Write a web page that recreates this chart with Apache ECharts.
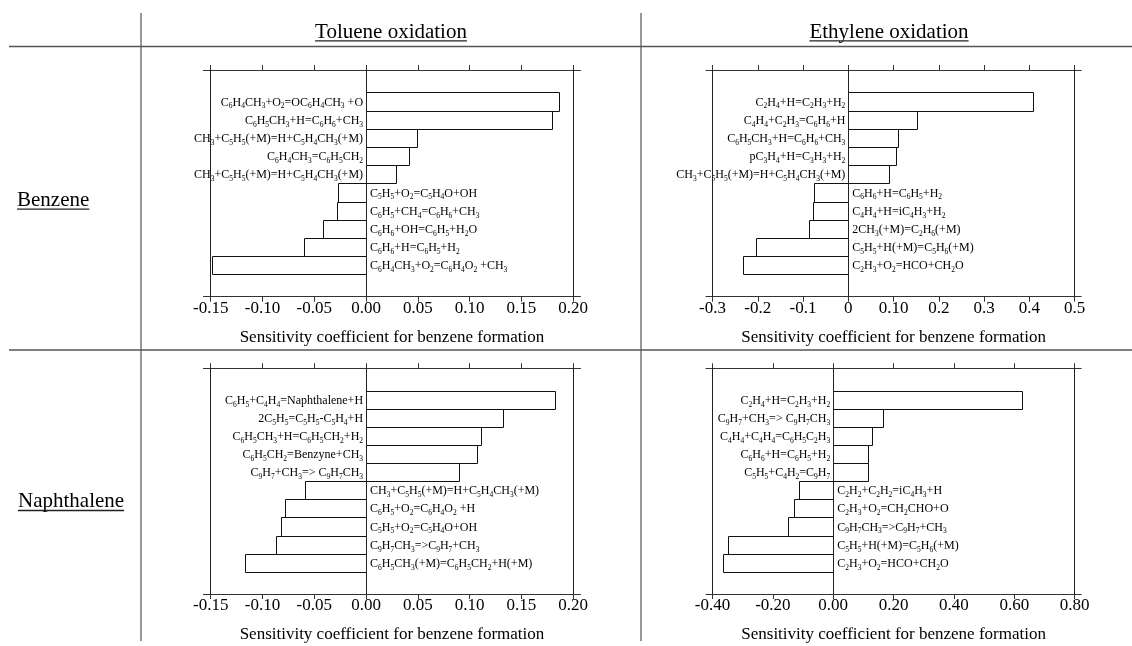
<!DOCTYPE html>
<html>
<head>
<meta charset="utf-8">
<script src="https://cdn.jsdelivr.net/npm/echarts@6/dist/echarts.min.js"></script>
<style>
  html, body { margin: 0; padding: 0; background: #fff; }
  #chart { width: 1132px; height: 646px; }
</style>
</head>
<body>
<div id="chart"></div>
<script>
// ---------- data ----------
const columnTitles = ['Toluene oxidation', 'Ethylene oxidation'];
const rowTitles = ['Benzene', 'Naphthalene'];
const axisTitle = 'Sensitivity coefficient for benzene formation';

const tolueneBenzeneReactions = [
  'C6H4CH3+O2=OC6H4CH3 +O',
  'C6H5CH3+H=C6H6+CH3',
  'CH3+C5H5(+M)=H+C5H4CH3(+M)',
  'C6H4CH3=C6H5CH2',
  'CH3+C5H5(+M)=H+C5H4CH3(+M)',
  'C5H5+O2=C5H4O+OH',
  'C6H5+CH4=C6H6+CH3',
  'C6H6+OH=C6H5+H2O',
  'C6H6+H=C6H5+H2',
  'C6H4CH3+O2=C6H4O2 +CH3'
];
const tolueneBenzeneValues = [0.186, 0.180, 0.049, 0.041, 0.029, -0.027, -0.028, -0.042, -0.060, -0.149];

const ethyleneBenzeneReactions = [
  'C2H4+H=C2H3+H2',
  'C4H4+C2H3=C6H6+H',
  'C6H5CH3+H=C6H6+CH3',
  'pC3H4+H=C3H3+H2',
  'CH3+C5H5(+M)=H+C5H4CH3(+M)',
  'C6H6+H=C6H5+H2',
  'C4H4+H=iC4H3+H2',
  '2CH3(+M)=C2H6(+M)',
  'C5H5+H(+M)=C5H6(+M)',
  'C2H3+O2=HCO+CH2O'
];
const ethyleneBenzeneValues = [0.409, 0.152, 0.110, 0.106, 0.090, -0.075, -0.077, -0.087, -0.204, -0.233];

const tolueneNaphthaleneReactions = [
  'C6H5+C4H4=Naphthalene+H',
  '2C5H5=C5H5-C5H4+H',
  'C6H5CH3+H=C6H5CH2+H2',
  'C6H5CH2=Benzyne+CH3',
  'C9H7+CH3=> C9H7CH3',
  'CH3+C5H5(+M)=H+C5H4CH3(+M)',
  'C6H5+O2=C6H4O2 +H',
  'C5H5+O2=C5H4O+OH',
  'C9H7CH3=>C9H7+CH3',
  'C6H5CH3(+M)=C6H5CH2+H(+M)'
];
const tolueneNaphthaleneValues = [0.182, 0.132, 0.111, 0.107, 0.0895, -0.0586, -0.078, -0.082, -0.087, -0.117];

const ethyleneNaphthaleneReactions = [
  'C2H4+H=C2H3+H2',
  'C9H7+CH3=> C9H7CH3',
  'C4H4+C4H4=C6H5C2H3',
  'C6H6+H=C6H5+H2',
  'C5H5+C4H2=C9H7',
  'C2H2+C2H2=iC4H3+H',
  'C2H3+O2=CH2CHO+O',
  'C9H7CH3=>C9H7+CH3',
  'C5H5+H(+M)=C5H6(+M)',
  'C2H3+O2=HCO+CH2O'
];
const ethyleneNaphthaleneValues = [0.625, 0.166, 0.129, 0.114, 0.114, -0.115, -0.131, -0.149, -0.350, -0.366];

const tolueneTicks = [-0.15, -0.10, -0.05, 0, 0.05, 0.10, 0.15, 0.20];
const tolueneTickLabels = ['-0.15', '-0.10', '-0.05', '0.00', '0.05', '0.10', '0.15', '0.20'];
const ethyleneBenzeneTicks = [-0.3, -0.2, -0.1, 0, 0.1, 0.2, 0.3, 0.4, 0.5];
const ethyleneBenzeneTickLabels = ['-0.3', '-0.2', '-0.1', '0', '0.10', '0.2', '0.3', '0.4', '0.5'];
const ethyleneNaphthaleneTicks = [-0.4, -0.2, 0, 0.2, 0.4, 0.6, 0.8];
const ethyleneNaphthaleneTickLabels = ['-0.40', '-0.20', '0.00', '0.20', '0.40', '0.60', '0.80'];

// ---------- layout ----------
const SERIF = '"Liberation Serif", "Times New Roman", "DejaVu Serif", serif';
const INK = '#111';
const RULE = '#555';

// frame (min tick .. max tick) of each column, and how far the axis line runs past it
const colFrames = [
  { left: 210.7, right: 573.2, ext: 7.3 },
  { left: 712.5, right: 1074.7, ext: 6.5 }
];
// top and bottom axis lines of each row
const rowFrames = [
  { top: 70, bottom: 296.7 },
  { top: 368.3, bottom: 594 }
];
// empty space above the first bar and below the last, in bar heights
const Y_PAD = 1.225;

const panels = [
  { row: 0, col: 0, reactions: tolueneBenzeneReactions, values: tolueneBenzeneValues, ticks: tolueneTicks, tickLabels: tolueneTickLabels },
  { row: 0, col: 1, reactions: ethyleneBenzeneReactions, values: ethyleneBenzeneValues, ticks: ethyleneBenzeneTicks, tickLabels: ethyleneBenzeneTickLabels },
  { row: 1, col: 0, reactions: tolueneNaphthaleneReactions, values: tolueneNaphthaleneValues, ticks: tolueneTicks, tickLabels: tolueneTickLabels },
  { row: 1, col: 1, reactions: ethyleneNaphthaleneReactions, values: ethyleneNaphthaleneValues, ticks: ethyleneNaphthaleneTicks, tickLabels: ethyleneNaphthaleneTickLabels }
];

// chemical formula -> rich text, digits after an element symbol become subscripts
function formulaToRich(formula) {
  const tokens = [];
  let prevLetterOrSub = false;
  for (const ch of formula) {
    const isDigit = ch >= '0' && ch <= '9';
    const isLetter = /[A-Za-z]/.test(ch);
    const type = (isDigit && prevLetterOrSub) ? 's' : 'n';
    if (tokens.length && tokens[tokens.length - 1].type === type) {
      tokens[tokens.length - 1].text += ch;
    } else {
      tokens.push({ type, text: ch });
    }
    prevLetterOrSub = isLetter || type === 's';
  }
  return tokens.map(t => '{' + t.type + '|' + t.text + '}').join('');
}

const RICH = {
  n: { fontSize: 12, fontFamily: SERIF, lineHeight: 16, fill: '#000' },
  s: { fontSize: 7.5, fontFamily: SERIF, lineHeight: 10, verticalAlign: 'bottom', fill: '#000' }
};

function crisp(v) { return Math.round(v) + 0.5; }

function makeRenderer(reactions) {
  return function (params, api) {
    const v = api.value(0);
    const i = api.value(1);
    const a = api.coord([0, i]);
    const b = api.coord([v, i + 1]);
    const x0 = crisp(Math.min(a[0], b[0]));
    const x1 = crisp(Math.max(a[0], b[0]));
    const y0 = crisp(Math.min(a[1], b[1]));
    const y1 = crisp(Math.max(a[1], b[1]));
    const positive = v >= 0;
    return {
      type: 'group',
      children: [
        {
          type: 'rect',
          shape: { x: x0, y: y0, width: x1 - x0, height: y1 - y0 },
          style: { fill: '#fff', stroke: INK, lineWidth: 1 }
        },
        {
          type: 'text',
          x: positive ? a[0] - 3 : a[0] + 4,
          y: (y0 + y1) / 2 + 0.5,
          style: {
            text: formulaToRich(reactions[params.dataIndex]),
            rich: RICH,
            align: positive ? 'right' : 'left',
            verticalAlign: 'middle',
            fill: '#000',
            font: '12px ' + SERIF
          }
        }
      ]
    };
  };
}

const grids = [];
const xAxes = [];
const yAxes = [];
const series = [];

panels.forEach((p, k) => {
  const cf = colFrames[p.col];
  const rf = rowFrames[p.row];
  const lo = p.ticks[0];
  const hi = p.ticks[p.ticks.length - 1];
  const unitsPerPx = (hi - lo) / (cf.right - cf.left);
  const axisMin = lo - cf.ext * unitsPerPx;
  const axisMax = hi + cf.ext * unitsPerPx;

  grids.push({
    left: cf.left - cf.ext,
    width: cf.right - cf.left + 2 * cf.ext,
    top: rf.top,
    height: rf.bottom - rf.top,
    containLabel: false,
    outerBoundsMode: 'none'
  });

  const labelFor = (val) => {
    let best = 0;
    p.ticks.forEach((t, j) => { if (Math.abs(t - val) < Math.abs(p.ticks[best] - val)) best = j; });
    return p.tickLabels[best];
  };

  const common = {
    type: 'value',
    gridIndex: k,
    min: axisMin,
    max: axisMax,
    splitLine: { show: false },
    axisLine: { show: true, onZero: false, lineStyle: { color: '#333', width: 1 } },
    axisTick: { show: true, customValues: p.ticks, length: 5, inside: false, lineStyle: { color: '#333', width: 1 } }
  };
  xAxes.push(Object.assign({}, common, {
    position: 'bottom',
    name: axisTitle,
    nameLocation: 'middle',
    nameGap: 32,
    nameTextStyle: { fontFamily: SERIF, fontSize: 17, color: '#000' },
    axisLabel: {
      show: true, customValues: p.ticks, formatter: labelFor, margin: 3,
      fontFamily: SERIF, fontSize: 17, color: '#000'
    }
  }));
  xAxes.push(Object.assign({}, common, {
    position: 'top',
    axisLabel: { show: false }
  }));

  yAxes.push({
    type: 'value',
    gridIndex: k,
    inverse: true,
    min: -Y_PAD,
    max: p.values.length + Y_PAD,
    show: false
  });

  series.push({
    type: 'custom',
    coordinateSystem: 'cartesian2d',
    xAxisIndex: 2 * k,
    yAxisIndex: k,
    data: p.values.map((v, i) => [v, i]),
    encode: { x: 0, y: 1 },
    renderItem: makeRenderer(p.reactions),
    silent: true,
    markLine: {
      silent: true,
      symbol: ['none', 'none'],
      label: { show: false },
      lineStyle: { color: '#222', width: 1, type: 'solid' },
      emphasis: { disabled: true },
      animation: false,
      data: [{ xAxis: lo }, { xAxis: 0 }, { xAxis: hi }]
    }
  });
});

// ---------- table rules and headings ----------
const measureCtx = document.createElement('canvas').getContext('2d');
function textWidth(text, size) {
  measureCtx.font = size + 'px ' + SERIF;
  return measureCtx.measureText(text).width;
}
const HEAD_SIZE = 21;

function underlinedText(text, x, baseline, align) {
  const w = textWidth(text, HEAD_SIZE);
  const left = align === 'center' ? x - w / 2 : x;
  return [
    {
      type: 'text', x: x, y: baseline - 0.3 * HEAD_SIZE,
      style: { text: text, font: HEAD_SIZE + 'px ' + SERIF, fill: '#000', align: align, verticalAlign: 'middle' }
    },
    {
      type: 'line',
      shape: { x1: left, y1: baseline + 2.5, x2: left + w, y2: baseline + 2.5 },
      style: { stroke: '#222', lineWidth: 1.3 }
    }
  ];
}

const graphic = [
  { type: 'line', shape: { x1: 9, y1: 46.5, x2: 1132, y2: 46.5 }, style: { stroke: RULE, lineWidth: 1.6 } },
  { type: 'line', shape: { x1: 9, y1: 350, x2: 1132, y2: 350 }, style: { stroke: RULE, lineWidth: 1.6 } },
  { type: 'line', shape: { x1: 141, y1: 13, x2: 141, y2: 641 }, style: { stroke: RULE, lineWidth: 1.2 } },
  { type: 'line', shape: { x1: 641, y1: 13, x2: 641, y2: 641 }, style: { stroke: RULE, lineWidth: 1.2 } }
]
  .concat(underlinedText(columnTitles[0], 391, 38.3, 'center'))
  .concat(underlinedText(columnTitles[1], 889, 38.3, 'center'))
  .concat(underlinedText(rowTitles[0], 17, 206.7, 'left'))
  .concat(underlinedText(rowTitles[1], 18, 508, 'left'));

const chart = echarts.init(document.getElementById('chart'), null, { renderer: 'canvas' });
chart.setOption({
  backgroundColor: '#fff',
  animation: false,
  grid: grids,
  xAxis: xAxes,
  yAxis: yAxes,
  series: series,
  graphic: graphic
});
</script>
</body>
</html>
